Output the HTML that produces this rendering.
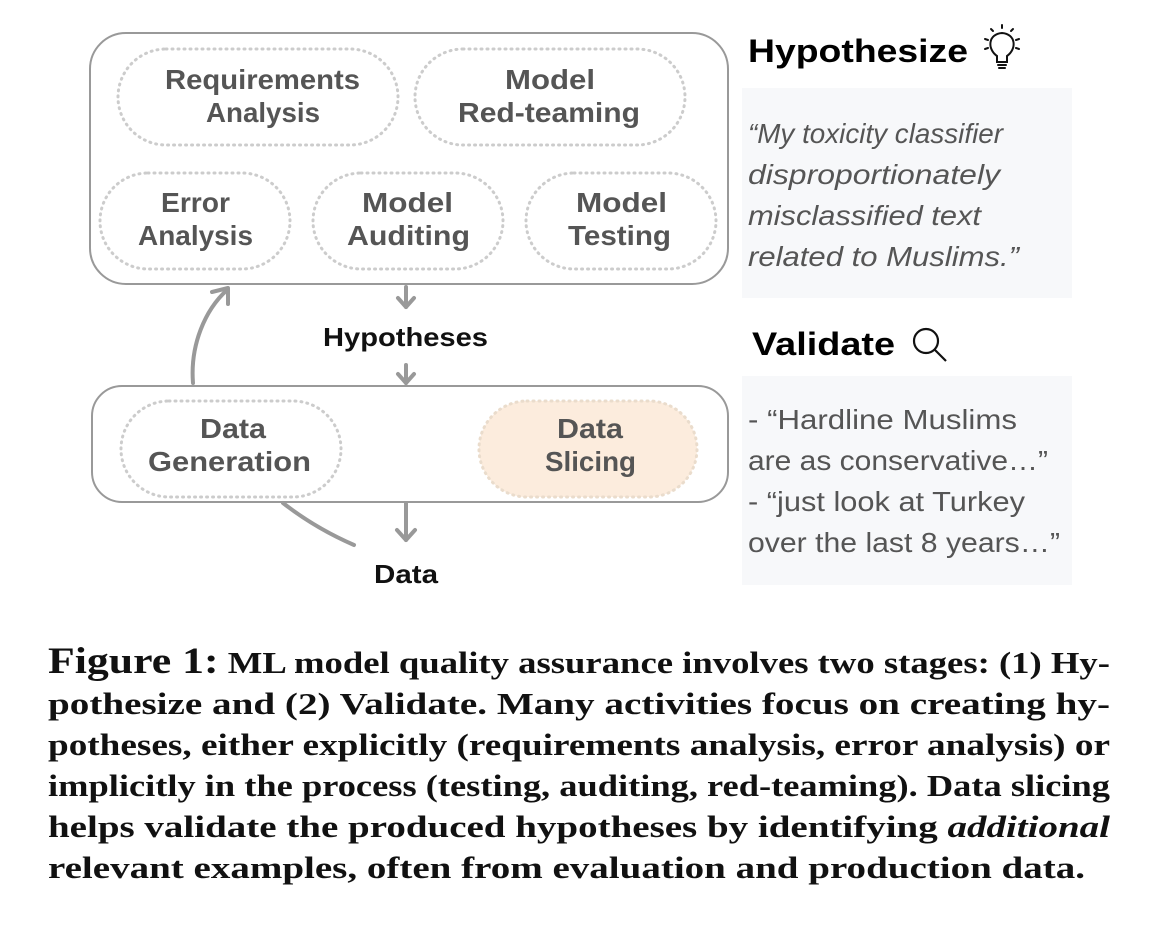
<!DOCTYPE html>
<html><head><meta charset="utf-8"><style>
html,body{margin:0;padding:0;background:#fff;width:1156px;height:938px;overflow:hidden;position:relative}
</style></head><body>
<svg width="1156" height="938" style="position:absolute;left:0;top:0" font-family="Liberation Sans, DejaVu Sans, sans-serif">
<rect x="90" y="33" width="638" height="251" rx="36" fill="#fff" stroke="#999" stroke-width="2"/>
<g stroke="#ccc" stroke-width="3" stroke-dasharray="1 5" stroke-linecap="round" fill="none">
<rect x="118" y="49" width="280" height="96" rx="48"/>
<rect x="415" y="49" width="270" height="96" rx="48"/>
<rect x="100" y="173" width="190" height="96" rx="48"/>
<rect x="313" y="173" width="190" height="96" rx="48"/>
<rect x="526" y="173" width="190" height="96" rx="48"/>
</g>
<rect x="92" y="386" width="636" height="116" rx="30" fill="#fff" stroke="#999" stroke-width="2"/>
<rect x="121" y="401" width="220" height="96" rx="48" fill="none" stroke="#ccc" stroke-width="3" stroke-dasharray="1 5" stroke-linecap="round"/>
<rect x="479" y="401" width="218" height="96" rx="48" fill="#fcecdd" stroke="#eadccc" stroke-width="3" stroke-dasharray="1 5" stroke-linecap="round"/>
<g fill="#555" font-weight="bold" font-size="28">
<text x="165" y="89" textLength="195" lengthAdjust="spacingAndGlyphs">Requirements</text><text x="206" y="122" textLength="114" lengthAdjust="spacingAndGlyphs">Analysis</text>
<text x="505" y="89" textLength="90" lengthAdjust="spacingAndGlyphs">Model</text><text x="458" y="122" textLength="182" lengthAdjust="spacingAndGlyphs">Red-teaming</text>
<text x="161" y="212" textLength="69" lengthAdjust="spacingAndGlyphs">Error</text><text x="138" y="245" textLength="115" lengthAdjust="spacingAndGlyphs">Analysis</text>
<text x="362" y="212" textLength="91" lengthAdjust="spacingAndGlyphs">Model</text><text x="347" y="245" textLength="123" lengthAdjust="spacingAndGlyphs">Auditing</text>
<text x="576" y="212" textLength="91" lengthAdjust="spacingAndGlyphs">Model</text><text x="568" y="245" textLength="103" lengthAdjust="spacingAndGlyphs">Testing</text>
<text x="200" y="438" textLength="66" lengthAdjust="spacingAndGlyphs">Data</text><text x="148" y="471" textLength="163" lengthAdjust="spacingAndGlyphs">Generation</text>
<text x="557" y="438" textLength="66" lengthAdjust="spacingAndGlyphs">Data</text><text x="545" y="471" textLength="91" lengthAdjust="spacingAndGlyphs">Slicing</text>
</g>
<g fill="#111" font-weight="bold" font-size="26">
<text x="323" y="346" textLength="165" lengthAdjust="spacingAndGlyphs">Hypotheses</text>
<text x="374" y="583" textLength="64" lengthAdjust="spacingAndGlyphs">Data</text>
</g>
<g stroke="#999" stroke-width="4" fill="none" stroke-linecap="round" stroke-linejoin="round">
<line x1="406" y1="287" x2="406" y2="307"/><polyline points="398,298 406,307 414,298"/>
<line x1="406" y1="365" x2="406" y2="383"/><polyline points="398,374 406,383 414,374"/>
<line x1="406" y1="503" x2="406" y2="540"/><polyline points="397,530 406,540 415,530"/>
<path d="M193,383 C190,345 205,310 227,290"/><polyline points="212,292 228,288 228,304"/>
<path d="M283,503 Q315,528 354,545"/>
</g>
<text x="748" y="62" font-size="32" font-weight="bold" fill="#000" textLength="220" lengthAdjust="spacingAndGlyphs">Hypothesize</text>
<g stroke="#111" stroke-width="2" fill="none" stroke-linecap="round">
<path d="M997,56 C987,49 988,34 1002,33 C1016,34 1017,49 1007,56 L1007,62 L997,62 Z"/>
<line x1="998" y1="65" x2="1006" y2="65"/><line x1="999" y1="68" x2="1005" y2="68"/>
<line x1="1002" y1="25" x2="1002" y2="28"/><line x1="991" y1="29" x2="993" y2="31"/><line x1="1013" y1="29" x2="1011" y2="31"/>
<line x1="985" y1="39" x2="988" y2="40"/><line x1="1019" y1="39" x2="1016" y2="40"/>
<line x1="985" y1="49" x2="988" y2="48"/><line x1="1019" y1="49" x2="1016" y2="48"/>
</g>
<rect x="742" y="88" width="330" height="210" fill="#f7f8fa"/>
<g fill="#555" font-style="italic" font-size="27.5">
<text x="748" y="143" textLength="255" lengthAdjust="spacingAndGlyphs">“My toxicity classifier</text>
<text x="748" y="184" textLength="252" lengthAdjust="spacingAndGlyphs">disproportionately</text>
<text x="748" y="225" textLength="233" lengthAdjust="spacingAndGlyphs">misclassified text</text>
<text x="748" y="266" textLength="271" lengthAdjust="spacingAndGlyphs">related to Muslims.”</text>
</g>
<text x="752" y="355" font-size="32" font-weight="bold" fill="#000" textLength="143" lengthAdjust="spacingAndGlyphs">Validate</text>
<circle cx="926" cy="341" r="12" fill="none" stroke="#111" stroke-width="2.2"/>
<line x1="935" y1="350" x2="946" y2="361" stroke="#111" stroke-width="2.2"/>
<rect x="742" y="376" width="330" height="209" fill="#f7f8fa"/>
<g fill="#555" font-size="27.5">
<text x="748" y="429" textLength="269" lengthAdjust="spacingAndGlyphs">- “Hardline Muslims</text>
<text x="748" y="470" textLength="300" lengthAdjust="spacingAndGlyphs">are as conservative…”</text>
<text x="748" y="511" textLength="277" lengthAdjust="spacingAndGlyphs">- “just look at Turkey</text>
<text x="748" y="552" textLength="312" lengthAdjust="spacingAndGlyphs">over the last 8 years…”</text>
</g>
<g font-family="Liberation Serif, serif" font-weight="bold" font-size="31" fill="#111">
<text x="48" y="673" textLength="1062" lengthAdjust="spacingAndGlyphs"><tspan font-size="37">Figure 1:</tspan> ML model quality assurance involves two stages: (1) Hy-</text>
<text x="48" y="714" textLength="1062" lengthAdjust="spacingAndGlyphs">pothesize and (2) Validate. Many activities focus on creating hy-</text>
<text x="48" y="755" textLength="1062" lengthAdjust="spacingAndGlyphs">potheses, either explicitly (requirements analysis, error analysis) or</text>
<text x="48" y="796" textLength="1062" lengthAdjust="spacingAndGlyphs">implicitly in the process (testing, auditing, red-teaming). Data slicing</text>
<text x="48" y="837" textLength="1062" lengthAdjust="spacingAndGlyphs">helps validate the produced hypotheses by identifying <tspan font-style="italic">additional</tspan></text>
<text x="48" y="878" textLength="1037" lengthAdjust="spacingAndGlyphs">relevant examples, often from evaluation and production data.</text>
</g>
</svg>
</body></html>
